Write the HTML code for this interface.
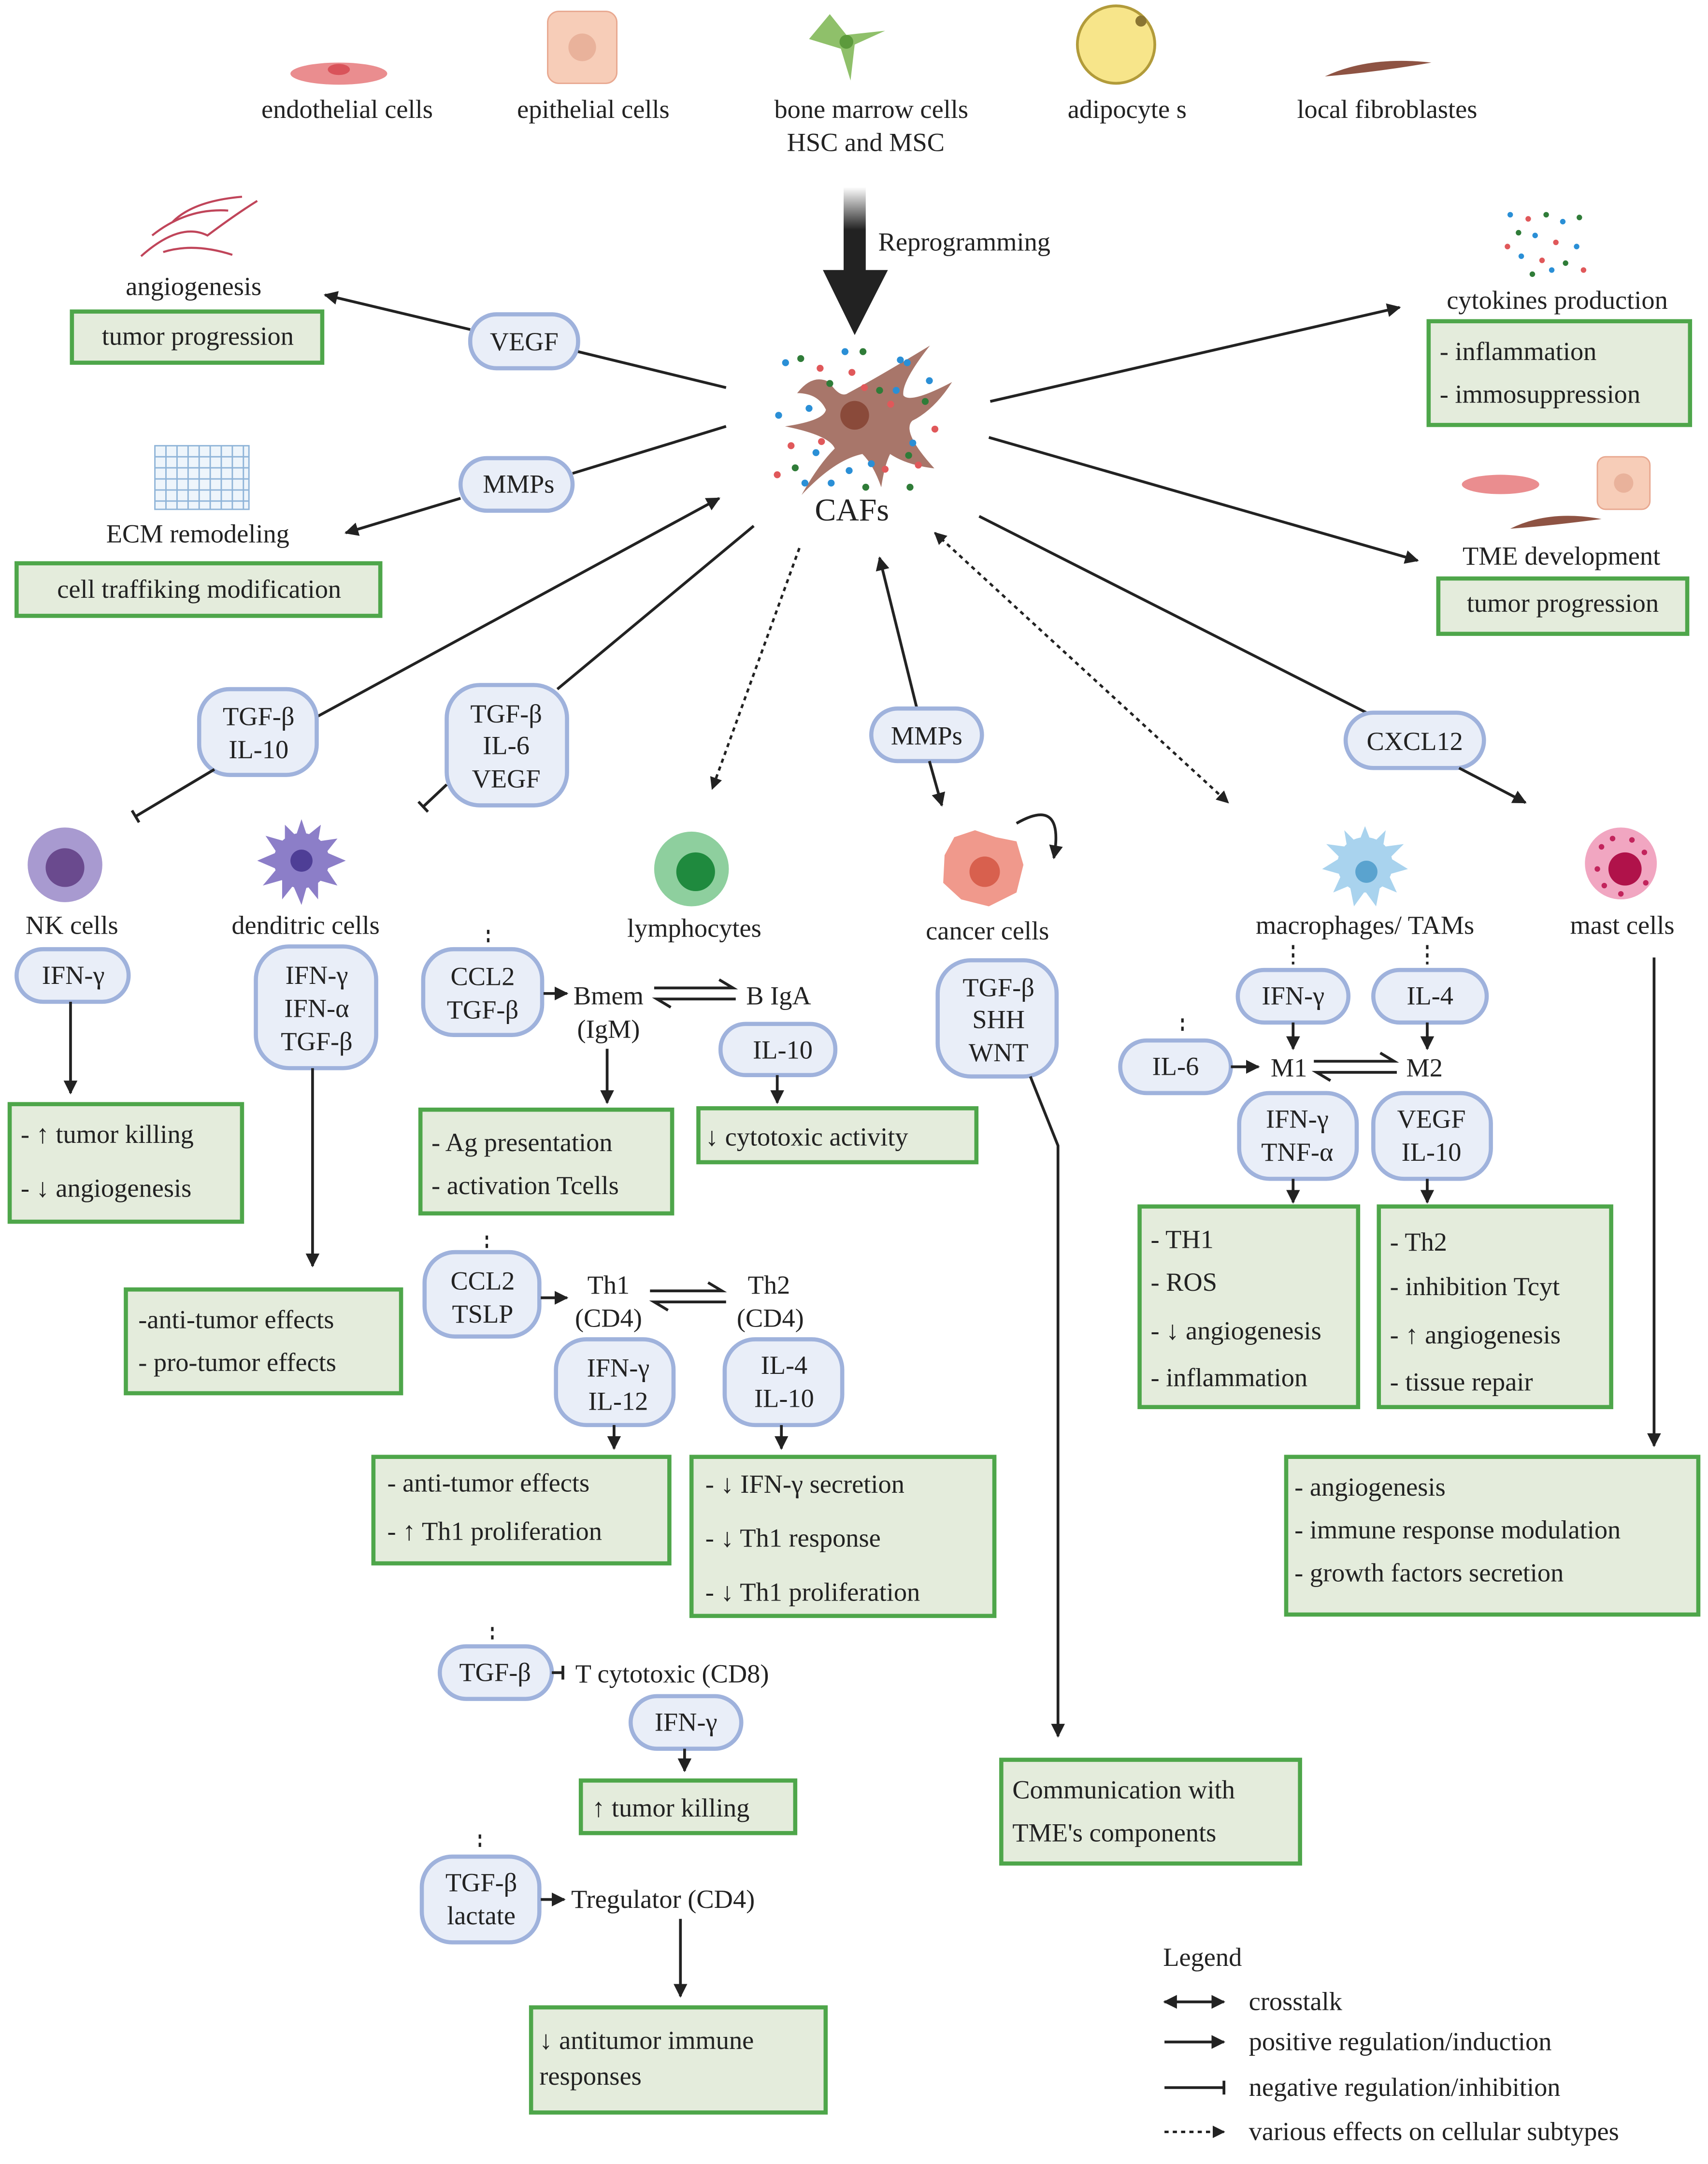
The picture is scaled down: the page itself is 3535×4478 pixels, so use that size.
<!DOCTYPE html>
<html><head><meta charset="utf-8"><style>html,body{margin:0;padding:0;background:#fff}svg{display:block}</style></head>
<body>
<svg xmlns="http://www.w3.org/2000/svg" width="3535" height="4478" viewBox="0 0 1235 1564" font-family="Liberation Serif, serif" font-size="19" fill="#222">
<defs>
<marker id="a" viewBox="0 0 10 10" refX="9" refY="5" markerWidth="5" markerHeight="5" orient="auto-start-reverse"><path d="M0,0L10,5L0,10z" fill="#222"/></marker>
<marker id="b" viewBox="0 0 4 10" refX="2" refY="5" markerWidth="2" markerHeight="6" orient="auto"><rect x="1" y="0" width="2" height="10" fill="#222"/></marker>
<linearGradient id="g" x1="0" y1="0" x2="0" y2="1"><stop offset="0" stop-color="#fff"/><stop offset="0.5" stop-color="#222"/></linearGradient>
</defs>
<style>
.p{fill:#e9eef8;stroke:#9fb2dc;stroke-width:3}
.gb{fill:#e4ecdc;stroke:#4ea64a;stroke-width:3}
.l{stroke:#222;stroke-width:2;fill:none}
.d{stroke:#222;stroke-width:1.8;fill:none;stroke-dasharray:3 3}
.c{text-anchor:middle}
</style>
<!-- top cells -->
<ellipse cx="245" cy="53" rx="35" ry="8" fill="#ea8d8f"/><ellipse cx="245" cy="50" rx="8" ry="4" fill="#d9535a"/>
<rect x="396" y="8" width="50" height="52" rx="8" fill="#f7cdb8" stroke="#e8a890"/><circle cx="421" cy="34" r="10" fill="#e9b29b"/>
<path d="M600,10 L612,25 L640,22 L618,32 L615,58 L608,35 L585,28 Z" fill="#8fc06a"/><circle cx="612" cy="30" r="5" fill="#5c9a3c"/>
<circle cx="807" cy="32" r="28" fill="#f7e58a" stroke="#b29b3a" stroke-width="2"/><circle cx="825" cy="15" r="4" fill="#8a7532"/>
<path d="M958,55 Q990,40 1035,45 Q995,52 958,55Z" fill="#8e5343"/>
<text x="251" y="85" class="c">endothelial cells</text>
<text x="429" y="85" class="c">epithelial cells</text>
<text x="630" y="85" class="c">bone marrow cells</text>
<text x="626" y="109" class="c">HSC and MSC</text>
<text x="815" y="85" class="c">adipocyte s</text>
<text x="1003" y="85" class="c">local fibroblastes</text>
<!-- reprogramming arrow -->
<rect x="610" y="135" width="16" height="62" fill="url(#g)"/>
<path d="M595,195 L642,195 L618,242Z" fill="#222"/>
<text x="635" y="181">Reprogramming</text>
<!-- CAFs -->
<g transform="translate(618,300) scale(0.8) translate(-618,-300)">
<path d="M566,280 Q580,262 595,270 Q605,285 612,280 Q640,265 686,237 Q660,270 662,282 Q668,290 706,270 Q690,295 670,305 Q660,315 690,348 Q665,345 650,335 Q645,345 642,365 Q635,345 625,335 Q600,340 570,372 Q585,345 600,330 Q595,318 555,310 Q590,305 592,295 Q585,280 566,280Z" fill="#a8766a"/>
<circle cx="618" cy="300" r="13" fill="#8a4a3a"/>
</g>
<g fill="#2a8fd6"><circle cx="568" cy="262" r="2.5"/><circle cx="563" cy="300" r="2.5"/><circle cx="585" cy="295" r="2.5"/><circle cx="656" cy="262" r="2.5"/><circle cx="648" cy="282" r="2.5"/><circle cx="672" cy="275" r="2.5"/><circle cx="590" cy="327" r="2.5"/><circle cx="614" cy="340" r="2.5"/><circle cx="660" cy="320" r="2.5"/><circle cx="601" cy="349" r="2.5"/><circle cx="630" cy="335" r="2.5"/><circle cx="611" cy="254" r="2.5"/><circle cx="651" cy="260" r="2.5"/><circle cx="582" cy="349" r="2.5"/></g>
<g fill="#e0585a"><circle cx="593" cy="266" r="2.5"/><circle cx="616" cy="269" r="2.5"/><circle cx="644" cy="292" r="2.5"/><circle cx="625" cy="280" r="2.5"/><circle cx="594" cy="319" r="2.5"/><circle cx="572" cy="322" r="2.5"/><circle cx="562" cy="343" r="2.5"/><circle cx="640" cy="339" r="2.5"/><circle cx="664" cy="336" r="2.5"/><circle cx="676" cy="310" r="2.5"/></g>
<g fill="#2f7c38"><circle cx="579" cy="259" r="2.5"/><circle cx="600" cy="277" r="2.5"/><circle cx="624" cy="254" r="2.5"/><circle cx="636" cy="282" r="2.5"/><circle cx="669" cy="290" r="2.5"/><circle cx="657" cy="329" r="2.5"/><circle cx="575" cy="338" r="2.5"/><circle cx="626" cy="352" r="2.5"/><circle cx="658" cy="352" r="2.5"/></g>
<text x="616" y="376" class="c" font-size="23">CAFs</text>
<!-- angiogenesis -->
<g stroke="#c0455a" stroke-width="1.5" fill="none"><path d="M102,185 Q130,160 150,170 Q170,155 186,145"/><path d="M110,170 Q135,150 165,152"/><path d="M118,182 Q140,175 168,184"/><path d="M125,160 Q140,145 175,142"/></g>
<text x="140" y="213" class="c">angiogenesis</text>
<rect x="52" y="225" width="181" height="37" class="gb"/><text x="143" y="249" class="c">tumor progression</text>
<rect x="340" y="227" width="78" height="39" rx="19" class="p"/><text x="379" y="253" class="c">VEGF</text>
<line x1="525" y1="280" x2="418" y2="254" class="l"/><line x1="340" y1="238" x2="235" y2="213" class="l" marker-end="url(#a)"/>
<!-- ECM -->
<g stroke="#8fb4d8" stroke-width="1" fill="#eef5fb"><rect x="112" y="322" width="68" height="46"/><path d="M112,330H180M112,338H180M112,346H180M112,354H180M112,362H180M120,322V368M128,322V368M136,322V368M144,322V368M152,322V368M160,322V368M168,322V368M176,322V368"/></g>
<text x="143" y="392" class="c">ECM remodeling</text>
<rect x="12" y="407" width="263" height="38" class="gb"/><text x="144" y="432" class="c">cell traffiking modification</text>
<rect x="333" y="331" width="81" height="38" rx="19" class="p"/><text x="375" y="356" class="c">MMPs</text>
<line x1="525" y1="308" x2="414" y2="342" class="l"/><line x1="333" y1="360" x2="250" y2="385" class="l" marker-end="url(#a)"/>
<!-- cytokines -->
<g fill="#2a8fd6"><circle cx="1092" cy="155" r="2"/><circle cx="1110" cy="170" r="2"/><circle cx="1130" cy="160" r="2"/><circle cx="1100" cy="185" r="2"/><circle cx="1140" cy="178" r="2"/><circle cx="1122" cy="195" r="2"/></g>
<g fill="#e0585a"><circle cx="1105" cy="158" r="2"/><circle cx="1125" cy="175" r="2"/><circle cx="1145" cy="195" r="2"/><circle cx="1090" cy="178" r="2"/><circle cx="1115" cy="188" r="2"/></g>
<g fill="#2f7c38"><circle cx="1118" cy="155" r="2"/><circle cx="1142" cy="157" r="2"/><circle cx="1098" cy="168" r="2"/><circle cx="1132" cy="190" r="2"/><circle cx="1108" cy="198" r="2"/></g>
<text x="1126" y="223" class="c">cytokines production</text>
<rect x="1033" y="232" width="189" height="75" class="gb"/><text x="1041" y="260">- inflammation</text><text x="1041" y="291">- immosuppression</text>
<line x1="716" y1="290" x2="1012" y2="222" class="l" marker-end="url(#a)"/>
<!-- TME -->
<ellipse cx="1085" cy="350" rx="28" ry="7" fill="#ea8d8f"/><rect x="1155" y="330" width="38" height="38" rx="6" fill="#f7cdb8" stroke="#e8a890"/><circle cx="1174" cy="349" r="7" fill="#e9b29b"/>
<path d="M1092,382 Q1120,368 1158,375 Q1120,380 1092,382Z" fill="#8e5343"/>
<text x="1129" y="408" class="c">TME  development</text>
<rect x="1040" y="418" width="180" height="40" class="gb"/><text x="1130" y="442" class="c">tumor progression</text>
<line x1="715" y1="316" x2="1025" y2="405" class="l" marker-end="url(#a)"/>
<!-- inhibitions -->
<line x1="229" y1="518" x2="520" y2="360" class="l" marker-end="url(#a)"/>
<rect x="144" y="498" width="85" height="62" rx="22" class="p"/><text x="187" y="524" class="c">TGF-β</text><text x="187" y="548" class="c">IL-10</text>
<line x1="155" y1="556" x2="98" y2="590" class="l" marker-end="url(#b)"/>
<line x1="545" y1="380" x2="403" y2="498" class="l"/>
<rect x="323" y="495" width="87" height="87" rx="24" class="p"/><text x="366" y="522" class="c">TGF-β</text><text x="366" y="545" class="c">IL-6</text><text x="366" y="569" class="c">VEGF</text>
<line x1="323" y1="567" x2="306" y2="583" class="l" marker-end="url(#b)"/>
<line x1="578" y1="396" x2="515" y2="570" class="d" marker-end="url(#a)"/>
<line x1="663" y1="512" x2="636" y2="403" class="l" marker-end="url(#a)"/>
<rect x="630" y="512" width="80" height="38" rx="19" class="p"/><text x="670" y="538" class="c">MMPs</text>
<line x1="672" y1="550" x2="681" y2="582" class="l" marker-end="url(#a)"/>
<line x1="676" y1="385" x2="888" y2="580" class="d" marker-end="url(#a)" marker-start="url(#a)"/>
<line x1="708" y1="373" x2="990" y2="516" class="l"/>
<rect x="973" y="515" width="100" height="40" rx="20" class="p"/><text x="1023" y="542" class="c">CXCL12</text>
<line x1="1055" y1="555" x2="1103" y2="580" class="l" marker-end="url(#a)"/>
<!-- cells -->
<circle cx="47" cy="625" r="27" fill="#a89ad0"/><circle cx="47" cy="627" r="14" fill="#6a4a8e"/>
<text x="52" y="675" class="c">NK cells</text>
<g fill="#8c7ec8"><circle cx="218" cy="622" r="20"/><path d="M218,592L222,604L232,596L230,608L244,606L236,616L250,622L236,628L244,640L230,636L230,650L222,640L218,654L212,640L204,650L204,636L190,640L200,628L186,622L200,616L192,604L206,608L206,596L214,604Z"/></g><circle cx="218" cy="622" r="8" fill="#4e3e96"/>
<text x="221" y="675" class="c">denditric cells</text>
<circle cx="500" cy="628" r="27" fill="#8ecf9e"/><circle cx="503" cy="630" r="14" fill="#1f8a3e"/>
<text x="502" y="677" class="c">lymphocytes</text>
<path d="M690,605 L705,600 L720,605 L735,608 L740,625 L735,645 L715,655 L695,650 L682,638 L683,618Z" fill="#f0998c"/><circle cx="712" cy="630" r="11" fill="#d8604e"/>
<path d="M735,595 Q770,575 762,620" class="l" marker-end="url(#a)"/>
<text x="714" y="679" class="c">cancer cells</text>
<g fill="#a9d3ee"><circle cx="987" cy="625" r="20"/><path d="M987,597L992,610L1002,600L1000,612L1015,610L1005,620L1018,628L1004,632L1010,645L998,640L995,655L987,644L979,655L976,640L964,645L970,632L956,628L969,620L959,610L974,612L972,600L982,610Z"/></g><circle cx="988" cy="630" r="8" fill="#5aa3cf"/>
<text x="987" y="675" class="c">macrophages/ TAMs</text>
<circle cx="1172" cy="624" r="26" fill="#f1a6c1"/><circle cx="1175" cy="628" r="12" fill="#b0124a"/>
<g fill="#c2245c"><circle cx="1158" cy="612" r="2"/><circle cx="1166" cy="606" r="2"/><circle cx="1180" cy="607" r="2"/><circle cx="1189" cy="616" r="2"/><circle cx="1155" cy="628" r="2"/><circle cx="1160" cy="640" r="2"/><circle cx="1190" cy="638" r="2"/><circle cx="1172" cy="646" r="2"/></g>
<text x="1173" y="675" class="c">mast cells</text>
<!-- NK -->
<rect x="12" y="686" width="81" height="38" rx="19" class="p"/><text x="53" y="711" class="c">IFN-γ</text>
<line x1="51" y1="724" x2="51" y2="790" class="l" marker-end="url(#a)"/>
<rect x="7" y="798" width="168" height="85" class="gb"/><text x="15" y="826">- ↑ tumor killing</text><text x="15" y="865">- ↓ angiogenesis</text>
<!-- dendritic -->
<rect x="185" y="684" width="87" height="88" rx="24" class="p"/><text x="229" y="711" class="c">IFN-γ</text><text x="229" y="735" class="c">IFN-α</text><text x="229" y="759" class="c">TGF-β</text>
<line x1="226" y1="772" x2="226" y2="915" class="l" marker-end="url(#a)"/>
<rect x="91" y="932" width="199" height="75" class="gb"/><text x="100" y="960">-anti-tumor effects</text><text x="100" y="991">- pro-tumor effects</text>
<!-- B cells -->
<line x1="353" y1="672" x2="353" y2="683" class="d"/>
<rect x="306" y="686" width="86" height="62" rx="22" class="p"/><text x="349" y="712" class="c">CCL2</text><text x="349" y="736" class="c">TGF-β</text>
<line x1="393" y1="718" x2="410" y2="718" class="l" marker-end="url(#a)"/>
<text x="440" y="726" class="c">Bmem</text><text x="440" y="750" class="c">(IgM)</text>
<path d="M473,714H530L520,708M532,722H475L485,728" class="l"/>
<text x="563" y="726" class="c">B IgA</text>
<rect x="521" y="740" width="83" height="37" rx="18" class="p"/><text x="566" y="765" class="c">IL-10</text>
<line x1="562" y1="777" x2="562" y2="797" class="l" marker-end="url(#a)"/>
<line x1="439" y1="758" x2="439" y2="797" class="l" marker-end="url(#a)"/>
<rect x="304" y="802" width="182" height="75" class="gb"/><text x="312" y="832">- Ag presentation</text><text x="312" y="863">- activation Tcells</text>
<rect x="505" y="801" width="201" height="39" class="gb"/><text x="510" y="828">↓ cytotoxic  activity</text>
<!-- Th -->
<line x1="352" y1="893" x2="352" y2="902" class="d"/>
<rect x="307" y="905" width="83" height="61" rx="22" class="p"/><text x="349" y="932" class="c">CCL2</text><text x="349" y="956" class="c">TSLP</text>
<line x1="391" y1="938" x2="410" y2="938" class="l" marker-end="url(#a)"/>
<text x="440" y="935" class="c">Th1</text><text x="440" y="959" class="c">(CD4)</text>
<path d="M470,933H522L512,927M525,941H473L483,947" class="l"/>
<text x="556" y="935" class="c">Th2</text><text x="557" y="959" class="c">(CD4)</text>
<rect x="402" y="968" width="85" height="62" rx="22" class="p"/><text x="447" y="995" class="c">IFN-γ</text><text x="447" y="1019" class="c">IL-12</text>
<rect x="524" y="968" width="85" height="62" rx="22" class="p"/><text x="567" y="993" class="c">IL-4</text><text x="567" y="1017" class="c">IL-10</text>
<line x1="444" y1="1030" x2="444" y2="1047" class="l" marker-end="url(#a)"/>
<line x1="565" y1="1030" x2="565" y2="1047" class="l" marker-end="url(#a)"/>
<rect x="270" y="1053" width="214" height="77" class="gb"/><text x="280" y="1078">- anti-tumor effects</text><text x="280" y="1113">- ↑ Th1 proliferation</text>
<rect x="500" y="1053" width="219" height="115" class="gb"/><text x="510" y="1079">- ↓ IFN-γ secretion</text><text x="510" y="1118">- ↓ Th1 response</text><text x="510" y="1157">- ↓ Th1 proliferation</text>
<!-- CD8 -->
<line x1="356" y1="1176" x2="356" y2="1187" class="d"/>
<rect x="318" y="1190" width="81" height="38" rx="19" class="p"/><text x="358" y="1215" class="c">TGF-β</text>
<line x1="399" y1="1209" x2="407" y2="1209" class="l" marker-end="url(#b)"/>
<text x="416" y="1216">T cytotoxic (CD8)</text>
<rect x="456" y="1226" width="80" height="38" rx="19" class="p"/><text x="496" y="1251" class="c">IFN-γ</text>
<line x1="495" y1="1264" x2="495" y2="1280" class="l" marker-end="url(#a)"/>
<rect x="420" y="1287" width="155" height="38" class="gb"/><text x="428" y="1313">↑ tumor killing</text>
<!-- Treg -->
<line x1="347" y1="1326" x2="347" y2="1338" class="d"/>
<rect x="305" y="1342" width="85" height="62" rx="22" class="p"/><text x="348" y="1367" class="c">TGF-β</text><text x="348" y="1391" class="c">lactate</text>
<line x1="391" y1="1373" x2="408" y2="1373" class="l" marker-end="url(#a)"/>
<text x="413" y="1379">Tregulator (CD4)</text>
<line x1="492" y1="1387" x2="492" y2="1443" class="l" marker-end="url(#a)"/>
<rect x="384" y="1451" width="213" height="76" class="gb"/><text x="390" y="1481">↓ antitumor immune</text><text x="390" y="1507">responses</text>
<!-- cancer -->
<rect x="678" y="694" width="86" height="84" rx="24" class="p"/><text x="722" y="720" class="c">TGF-β</text><text x="722" y="743" class="c">SHH</text><text x="722" y="767" class="c">WNT</text>
<path d="M745,778L765,828V1255" class="l" marker-end="url(#a)"/>
<rect x="724" y="1272" width="216" height="75" class="gb"/><text x="732" y="1300">Communication with</text><text x="732" y="1331">TME's components</text>
<!-- macrophages -->
<line x1="935" y1="683" x2="935" y2="697" class="d"/><line x1="1032" y1="683" x2="1032" y2="697" class="d"/><line x1="855" y1="736" x2="855" y2="748" class="d"/>
<rect x="895" y="701" width="80" height="38" rx="19" class="p"/><text x="935" y="726" class="c">IFN-γ</text>
<rect x="993" y="701" width="82" height="38" rx="19" class="p"/><text x="1034" y="726" class="c">IL-4</text>
<line x1="935" y1="739" x2="935" y2="758" class="l" marker-end="url(#a)"/>
<line x1="1032" y1="739" x2="1032" y2="758" class="l" marker-end="url(#a)"/>
<rect x="810" y="752" width="80" height="38" rx="19" class="p"/><text x="850" y="777" class="c">IL-6</text>
<line x1="890" y1="771" x2="910" y2="771" class="l" marker-end="url(#a)"/>
<text x="932" y="778" class="c">M1</text>
<path d="M950,767H1008L998,761M1010,775H952L962,781" class="l"/>
<text x="1030" y="778" class="c">M2</text>
<rect x="896" y="790" width="85" height="62" rx="22" class="p"/><text x="938" y="815" class="c">IFN-γ</text><text x="938" y="839" class="c">TNF-α</text>
<rect x="993" y="790" width="85" height="62" rx="22" class="p"/><text x="1035" y="815" class="c">VEGF</text><text x="1035" y="839" class="c">IL-10</text>
<line x1="935" y1="852" x2="935" y2="869" class="l" marker-end="url(#a)"/>
<line x1="1032" y1="852" x2="1032" y2="869" class="l" marker-end="url(#a)"/>
<rect x="824" y="872" width="158" height="145" class="gb"/><text x="832" y="902">- TH1</text><text x="832" y="933">- ROS</text><text x="832" y="968">- ↓ angiogenesis</text><text x="832" y="1002">- inflammation</text>
<rect x="997" y="872" width="168" height="145" class="gb"/><text x="1005" y="904">- Th2</text><text x="1005" y="936">- inhibition Tcyt</text><text x="1005" y="971">- ↑ angiogenesis</text><text x="1005" y="1005">- tissue repair</text>
<!-- mast -->
<line x1="1196" y1="692" x2="1196" y2="1045" class="l" marker-end="url(#a)"/>
<rect x="930" y="1053" width="298" height="114" class="gb"/><text x="936" y="1081">- angiogenesis</text><text x="936" y="1112">- immune response modulation</text><text x="936" y="1143">- growth factors secretion</text>
<!-- legend -->
<text x="841" y="1421">Legend</text>
<line x1="842" y1="1447" x2="885" y2="1447" class="l" marker-end="url(#a)" marker-start="url(#a)"/><text x="903" y="1453">crosstalk</text>
<line x1="842" y1="1476" x2="885" y2="1476" class="l" marker-end="url(#a)"/><text x="903" y="1482">positive regulation/induction</text>
<line x1="842" y1="1509" x2="885" y2="1509" class="l" marker-end="url(#b)"/><text x="903" y="1515">negative regulation/inhibition</text>
<line x1="842" y1="1541" x2="885" y2="1541" class="d" marker-end="url(#a)"/><text x="903" y="1547">various effects on cellular subtypes</text>
</svg>
</body></html>
